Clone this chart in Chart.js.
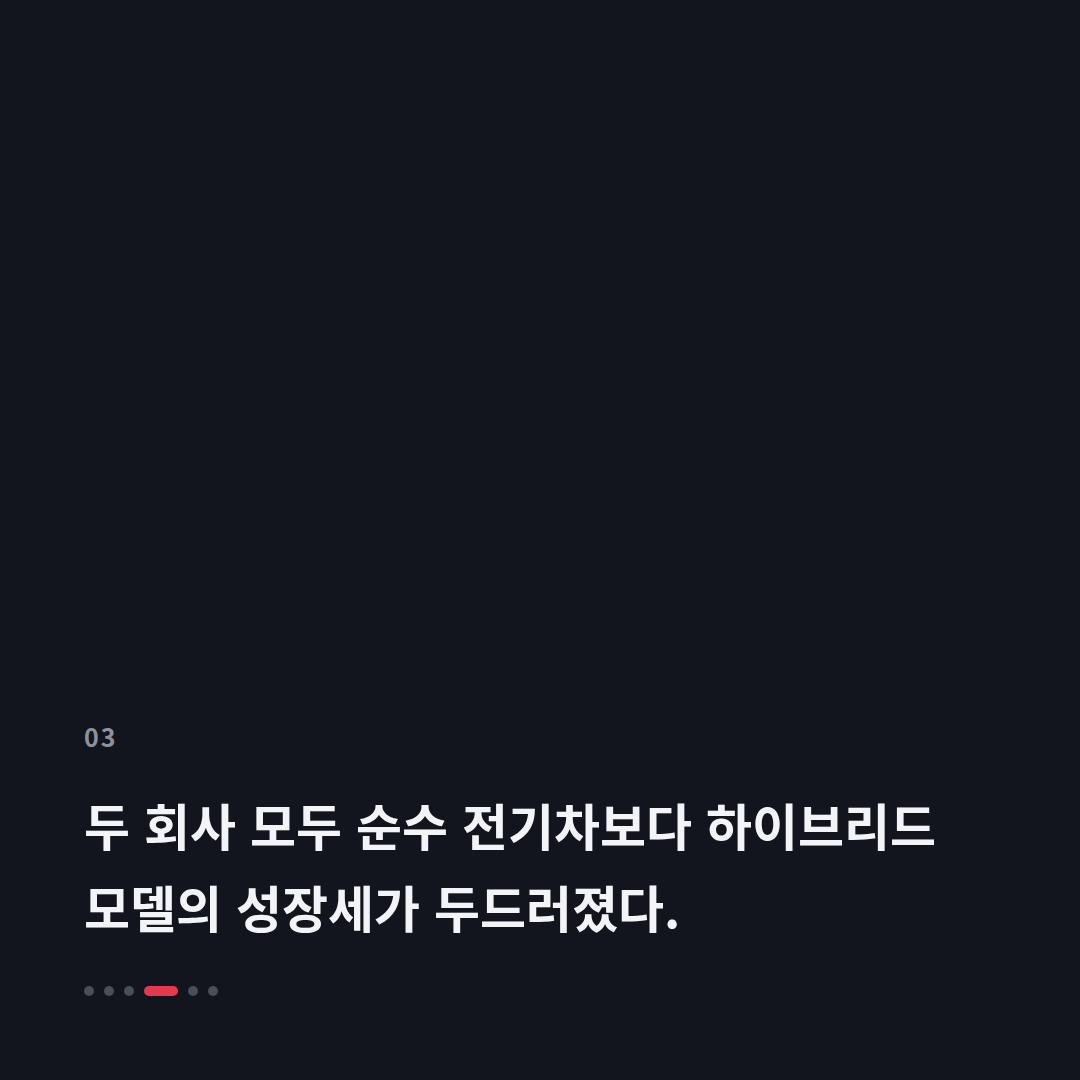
<!DOCTYPE html>
<html lang="ko">
<head>
<meta charset="utf-8">
<script src="https://cdn.jsdelivr.net/npm/chart.js@4.4.1/dist/chart.umd.min.js"></script>
<style>
  html,body{margin:0;padding:0;}
  body{width:1080px;height:1080px;background:#12151d;position:relative;overflow:hidden;
       font-family:"Noto Sans CJK KR","Noto Sans",sans-serif;}
  #chartBox{position:absolute;left:84px;top:84px;width:912px;height:600px;}
  .num{position:absolute;left:84px;top:718px;font-size:25px;font-weight:600;color:#8b929e;letter-spacing:2px;}
  .title{position:absolute;left:84px;top:783px;font-size:50px;font-weight:700;color:#f2f4f7;
         line-height:82px;letter-spacing:0;margin:0;}
  .dots{position:absolute;left:84px;top:986px;display:flex;gap:10px;}
  .dots span{width:10px;height:10px;border-radius:5px;background:#4a4e56;}
  .dots span.on{width:34px;background:#e8384f;}
</style>
</head>
<body>
<div id="chartBox"><canvas id="chart"></canvas></div>
<div class="num">03</div>
<h1 class="title">두 회사 모두 순수 전기차보다 하이브리드<br>모델의 성장세가 두드러졌다.</h1>
<div class="dots"><span></span><span></span><span></span><span class="on"></span><span></span><span></span></div>

<script>
/* ------------- DATA ------------- */
// the reference slide shows no marks in the chart area, so the series are empty
const categories = [];
const evValues = [];
const hybridValues = [];

/* ------------- CHART ------------- */
const ctx = document.getElementById("chart").getContext("2d");
new Chart(ctx,{
  type:"line",
  data:{
    labels:categories,
    datasets:[
      {label:"순수 전기차",data:evValues,borderColor:"#8b929e",borderWidth:2,fill:false},
      {label:"하이브리드",data:hybridValues,borderColor:"#e8384f",borderWidth:2,fill:false}
    ]
  },
  options:{
    responsive:true,
    maintainAspectRatio:false,
    animation:false,
    plugins:{legend:{display:false},tooltip:{enabled:false}},
    scales:{
      x:{display:false},
      y:{display:false}
    }
  }
});
</script>
</body>
</html>
